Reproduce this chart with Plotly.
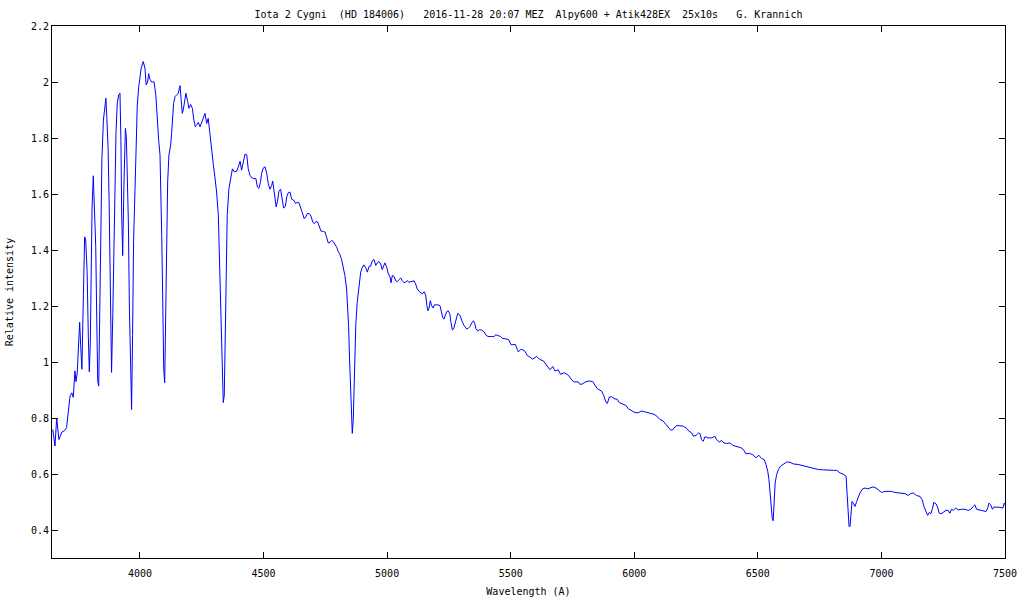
import plotly.graph_objects as go

# Wavelength (Angstrom) and relative intensity
wavelength = [
    3647, 3656, 3663, 3672, 3684, 3695, 3703, 3710, 3717, 3724, 3730, 3737, 3741, 3746, 3752, 3756,
    3760, 3765, 3771, 3776, 3780, 3786, 3791, 3795, 3799, 3802, 3806, 3811, 3815, 3821, 3825, 3829,
    3833, 3837, 3841, 3846, 3852, 3857, 3862, 3866, 3871, 3875, 3879, 3883, 3885, 3890, 3895, 3899,
    3903, 3908, 3914, 3919, 3923, 3926, 3930, 3935, 3941, 3945, 3949, 3953, 3957, 3962, 3966, 3970,
    3974, 3980, 3984, 3989, 3995, 4000, 4005, 4013, 4020, 4025, 4031, 4035, 4040, 4047, 4057, 4064,
    4070, 4076, 4081, 4084, 4088, 4092, 4096, 4100, 4104, 4108, 4112, 4117, 4124, 4128, 4132, 4136,
    4142, 4148, 4155, 4162, 4166, 4171, 4175, 4179, 4186, 4193, 4198, 4205, 4212, 4218, 4224, 4229,
    4236, 4243, 4256, 4263, 4270, 4276, 4283, 4290, 4297, 4303, 4310, 4317, 4324, 4331, 4335, 4337,
    4341, 4344, 4348, 4353, 4360, 4367, 4374, 4382, 4391, 4398, 4405, 4411, 4418, 4425, 4432, 4438,
    4445, 4452, 4461, 4469, 4475, 4481, 4487, 4492, 4499, 4506, 4513, 4519, 4526, 4533, 4537, 4542,
    4547, 4551, 4557, 4562, 4569, 4576, 4581, 4588, 4594, 4600, 4607, 4614, 4623, 4630, 4636, 4643,
    4650, 4657, 4664, 4670, 4677, 4685, 4692, 4699, 4705, 4712, 4719, 4725, 4732, 4742, 4749, 4755,
    4762, 4769, 4776, 4782, 4789, 4796, 4802, 4809, 4816, 4823, 4829, 4836, 4840, 4844, 4848, 4853,
    4857, 4859, 4863, 4867, 4873, 4879, 4886, 4893, 4900, 4906, 4914, 4920, 4927, 4933, 4940, 4947,
    4954, 4960, 4967, 4974, 4980, 4987, 4991, 4998, 5005, 5012, 5016, 5021, 5028, 5034, 5041, 5048,
    5055, 5061, 5068, 5075, 5081, 5088, 5095, 5102, 5109, 5115, 5122, 5129, 5136, 5142, 5150, 5156,
    5161, 5165, 5169, 5175, 5180, 5186, 5191, 5198, 5207, 5214, 5219, 5225, 5230, 5235, 5241, 5247,
    5254, 5258, 5264, 5269, 5275, 5280, 5286, 5294, 5299, 5304, 5310, 5315, 5322, 5328, 5335, 5342,
    5349, 5354, 5359, 5366, 5373, 5383, 5392, 5400, 5408, 5423, 5432, 5440, 5450, 5459, 5467, 5477,
    5491, 5502, 5519, 5526, 5531, 5542, 5556, 5567, 5578, 5589, 5605, 5616, 5632, 5646, 5659, 5670,
    5679, 5692, 5702, 5716, 5733, 5747, 5756, 5773, 5780, 5791, 5805, 5818, 5832, 5841, 5850, 5868,
    5877, 5885, 5891, 5899, 5909, 5918, 5931, 5939, 5955, 5966, 5976, 5989, 6003, 6016, 6030, 6043,
    6063, 6080, 6091, 6104, 6117, 6128, 6138, 6147, 6155, 6161, 6172, 6185, 6198, 6212, 6221, 6232,
    6239, 6250, 6261, 6266, 6272, 6279, 6286, 6299, 6313, 6326, 6333, 6344, 6353, 6363, 6374, 6387,
    6398, 6407, 6421, 6431, 6441, 6452, 6465, 6481, 6492, 6504, 6515, 6525, 6533, 6540, 6545, 6550,
    6554, 6558, 6562, 6566, 6570, 6576, 6583, 6592, 6603, 6617, 6630, 6643, 6663, 6677, 6691, 6704,
    6718, 6731, 6745, 6765, 6785, 6805, 6819, 6832, 6848, 6857, 6861, 6865, 6869, 6873, 6877, 6881,
    6886, 6893, 6900, 6906, 6913, 6924, 6934, 6944, 6954, 6967, 6978, 6988, 7001, 7014, 7028, 7041,
    7055, 7068, 7082, 7095, 7109, 7118, 7129, 7142, 7156, 7165, 7172, 7179, 7187, 7194, 7200, 7207,
    7212, 7221, 7227, 7234, 7241, 7250, 7261, 7270, 7277, 7284, 7290, 7300, 7311, 7325, 7338, 7351,
    7362, 7371, 7378, 7385, 7399, 7412, 7423, 7430, 7435, 7442, 7449, 7455, 7466, 7480, 7491, 7497,
    7500,
]

intensity = [
    0.759, 0.700, 0.800, 0.723, 0.750, 0.755, 0.766, 0.813, 0.878, 0.890, 0.874, 0.968, 0.930, 0.960, 1.094, 1.142,
    1.060, 0.974, 1.237, 1.447, 1.440, 1.327, 1.090, 0.965, 1.070, 1.345, 1.548, 1.665, 1.580, 1.410, 1.160, 0.932,
    0.914, 1.220, 1.530, 1.727, 1.864, 1.906, 1.942, 1.870, 1.763, 1.580, 1.320, 1.040, 0.963, 1.170, 1.440, 1.600,
    1.820, 1.924, 1.954, 1.960, 1.788, 1.524, 1.380, 1.630, 1.834, 1.800, 1.667, 1.500, 1.200, 0.926, 0.830, 1.094,
    1.428, 1.620, 1.790, 1.918, 1.984, 2.014, 2.050, 2.073, 2.050, 1.990, 2.000, 2.030, 2.010, 2.000, 2.000, 1.954,
    1.852, 1.787, 1.740, 1.643, 1.452, 1.225, 0.974, 0.926, 1.165, 1.416, 1.643, 1.739, 1.775, 1.816, 1.882, 1.924,
    1.948, 1.954, 1.960, 1.987, 1.950, 1.888, 1.900, 1.920, 1.960, 1.930, 1.906, 1.920, 1.906, 1.864, 1.840, 1.845,
    1.856, 1.840, 1.870, 1.888, 1.852, 1.870, 1.816, 1.769, 1.703, 1.661, 1.607, 1.524, 1.310, 1.094, 0.891, 0.855,
    0.879, 1.046, 1.260, 1.524, 1.620, 1.661, 1.690, 1.679, 1.681, 1.697, 1.717, 1.685, 1.709, 1.742, 1.740, 1.690,
    1.667, 1.658, 1.655, 1.655, 1.625, 1.620, 1.640, 1.673, 1.693, 1.697, 1.673, 1.637, 1.617, 1.631, 1.646, 1.613,
    1.583, 1.554, 1.577, 1.610, 1.617, 1.583, 1.550, 1.555, 1.590, 1.605, 1.607, 1.581, 1.577, 1.566, 1.570, 1.569,
    1.554, 1.533, 1.512, 1.516, 1.530, 1.530, 1.521, 1.500, 1.494, 1.502, 1.500, 1.482, 1.468, 1.466, 1.464, 1.446,
    1.425, 1.428, 1.434, 1.430, 1.422, 1.410, 1.395, 1.384, 1.365, 1.333, 1.309, 1.261, 1.201, 1.129, 1.010, 0.855,
    0.771, 0.745, 0.795, 0.914, 1.129, 1.213, 1.273, 1.321, 1.339, 1.347, 1.335, 1.321, 1.342, 1.342, 1.362, 1.366,
    1.345, 1.354, 1.359, 1.350, 1.330, 1.345, 1.354, 1.339, 1.315, 1.303, 1.283, 1.309, 1.306, 1.291, 1.287, 1.294,
    1.300, 1.291, 1.283, 1.285, 1.291, 1.285, 1.287, 1.287, 1.290, 1.279, 1.261, 1.253, 1.249, 1.243, 1.251, 1.239,
    1.201, 1.183, 1.190, 1.219, 1.201, 1.193, 1.204, 1.204, 1.204, 1.201, 1.180, 1.159, 1.153, 1.168, 1.180, 1.183,
    1.171, 1.142, 1.114, 1.118, 1.136, 1.159, 1.174, 1.168, 1.151, 1.144, 1.132, 1.126, 1.118, 1.120, 1.127, 1.139,
    1.147, 1.139, 1.120, 1.111, 1.115, 1.114, 1.108, 1.096, 1.091, 1.091, 1.091, 1.097, 1.094, 1.091, 1.084, 1.082,
    1.081, 1.061, 1.063, 1.046, 1.036, 1.046, 1.040, 1.024, 1.016, 1.010, 1.020, 1.010, 1.004, 0.988, 0.972, 0.984,
    0.968, 0.972, 0.956, 0.962, 0.953, 0.936, 0.929, 0.929, 0.920, 0.922, 0.930, 0.932, 0.930, 0.917, 0.905, 0.896,
    0.879, 0.857, 0.852, 0.875, 0.876, 0.869, 0.867, 0.855, 0.849, 0.845, 0.833, 0.825, 0.819, 0.819, 0.825, 0.822,
    0.817, 0.813, 0.807, 0.795, 0.789, 0.777, 0.765, 0.757, 0.757, 0.765, 0.773, 0.771, 0.771, 0.763, 0.753, 0.747,
    0.735, 0.738, 0.747, 0.744, 0.723, 0.717, 0.733, 0.729, 0.729, 0.735, 0.723, 0.714, 0.720, 0.711, 0.709, 0.711,
    0.703, 0.700, 0.697, 0.694, 0.688, 0.672, 0.674, 0.668, 0.658, 0.667, 0.655, 0.652, 0.634, 0.610, 0.580, 0.532,
    0.478, 0.443, 0.433, 0.496, 0.568, 0.598, 0.616, 0.628, 0.636, 0.643, 0.642, 0.636, 0.634, 0.631, 0.630, 0.625,
    0.622, 0.620, 0.616, 0.615, 0.613, 0.613, 0.613, 0.604, 0.598, 0.592, 0.532, 0.448, 0.413, 0.413, 0.460, 0.502,
    0.496, 0.484, 0.502, 0.514, 0.532, 0.547, 0.550, 0.547, 0.550, 0.554, 0.550, 0.542, 0.534, 0.538, 0.538, 0.538,
    0.534, 0.532, 0.530, 0.530, 0.523, 0.530, 0.532, 0.523, 0.520, 0.508, 0.484, 0.466, 0.452, 0.463, 0.458, 0.478,
    0.499, 0.493, 0.482, 0.460, 0.458, 0.463, 0.470, 0.470, 0.460, 0.474, 0.470, 0.478, 0.472, 0.474, 0.474, 0.470,
    0.474, 0.484, 0.490, 0.474, 0.472, 0.470, 0.466, 0.478, 0.496, 0.490, 0.474, 0.482, 0.482, 0.481, 0.478, 0.496,
    0.490,
]

x_ticks = [4000, 4500, 5000, 5500, 6000, 6500, 7000, 7500]
y_ticks = [0.4, 0.6, 0.8, 1.0, 1.2, 1.4, 1.6, 1.8, 2.0, 2.2]
y_tick_text = ["0.4", "0.6", "0.8", "1", "1.2", "1.4", "1.6", "1.8", "2", "2.2"]

title_text = "Iota 2 Cygni  (HD 184006)   2016-11-28 20:07 MEZ  Alpy600 + Atik428EX  25x10s   G. Krannich"

FONT = "DejaVu Sans Mono"

fig = go.Figure()
fig.add_trace(go.Scatter(
    x=wavelength, y=intensity, mode="lines",
    line=dict(color="#0000ff", width=1),
    showlegend=False,
))

axis_common = dict(
    showline=True, linecolor="black", linewidth=1, mirror="ticks",
    ticks="inside", ticklen=6, tickwidth=1, tickcolor="black",
    showgrid=False, zeroline=False, automargin=False,
    tickfont=dict(family=FONT, size=10, color="black"),
)

fig.update_layout(
    width=1024, height=600,
    margin=dict(l=52, r=19, t=26, b=42),
    paper_bgcolor="white", plot_bgcolor="white",
    font=dict(family=FONT, size=10, color="black"),
    title=dict(text=title_text, x=0.5, xref="paper", xanchor="center",
               y=1 - 14 / 600, yref="container", yanchor="middle",
               font=dict(family=FONT, size=10, color="black")),
    xaxis=dict(range=[3644, 7500], tickvals=x_ticks, ticklabelstandoff=6,
               title=dict(text="Wavelength (A)", standoff=9,
                          font=dict(family=FONT, size=10)),
               **axis_common),
    yaxis=dict(range=[0.3, 2.2], tickvals=y_ticks, ticktext=y_tick_text,
               title=dict(text="Relative intensity", standoff=15,
                          font=dict(family=FONT, size=10)),
               **axis_common),
)

fig.write_html("out.html", config={"displayModeBar": False},
               post_script="document.body.style.margin='0';")
